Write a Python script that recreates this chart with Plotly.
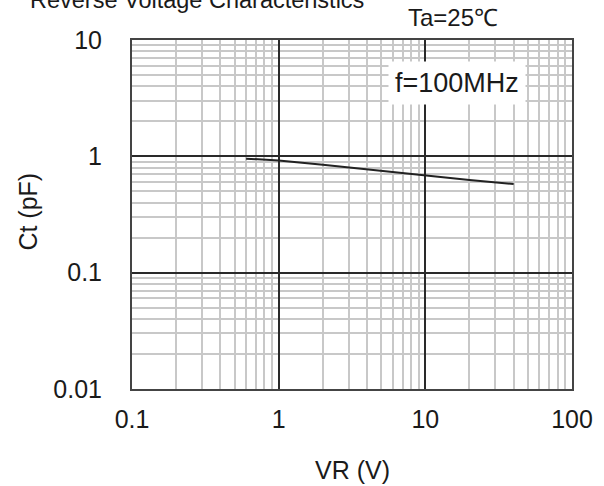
import plotly.graph_objects as go

# Data
vr = [0.6, 1, 2, 5, 10, 20, 40]
ct = [0.955, 0.92, 0.845, 0.748, 0.68, 0.627, 0.577]

x_major = [0.1, 1, 10, 100]
x_labels = ["0.1", "1", "10", "100"]
y_major = [0.01, 0.1, 1, 10]
y_labels = ["0.01", "0.1", "1", "10"]
x_minor = [m * d for d in [0.1, 1, 10] for m in range(2, 10)]
y_minor = [m * d for d in [0.01, 0.1, 1] for m in range(2, 10)]

FONT = "Liberation Sans, Arial, sans-serif"
TXT = "#1a1a1a"

fig = go.Figure()
fig.add_trace(go.Scatter(x=vr, y=ct, mode="lines",
                         line=dict(color="#222222", width=2),
                         hoverinfo="skip", showlegend=False))

axis_common = dict(
    type="log", showline=True, linecolor="#444444", linewidth=2, mirror=True,
    showgrid=True, gridcolor="#2a2a2a", gridwidth=1.5, ticks="",
    zeroline=False, tickfont=dict(family=FONT, size=25, color=TXT),
    minor=dict(showgrid=True, gridcolor="#c8c8c8", gridwidth=1.5, ticks=""),
)

fig.update_xaxes(range=[-1, 2], tickvals=x_major, ticktext=x_labels,
                 ticklabelstandoff=7, **axis_common)
fig.update_xaxes(minor_tickvals=x_minor)
fig.update_yaxes(range=[-2, 1], tickvals=y_major, ticktext=y_labels,
                 ticklabelstandoff=23, **axis_common)
fig.update_yaxes(minor_tickvals=y_minor)

fig.add_annotation(text="Reverse Voltage Characteristics", xref="paper", yref="paper",
                   x=(27 - 131.5) / 440.5, y=1.0, xanchor="left", yanchor="bottom", yshift=25,
                   showarrow=False, font=dict(family=FONT, size=23.5, color=TXT))
fig.add_annotation(text="Ta=25℃", xref="paper", yref="paper",
                   x=(500 - 131.5) / 440.5, y=1.0, xanchor="right", yanchor="middle",
                   yshift=23, showarrow=False, font=dict(family=FONT, size=24, color=TXT))
fig.add_annotation(text="f=100MHz", xref="paper", yref="paper",
                   x=(457 - 131.5) / 440.5, y=1 - (83 - 40) / 349, xanchor="center",
                   yanchor="middle", showarrow=False, bgcolor="white", borderpad=6,
                   font=dict(family=FONT, size=27, color=TXT))
fig.add_annotation(text="Ct (pF)", xref="paper", yref="paper",
                   x=(27 - 131.5) / 440.5, y=1 - (212 - 40) / 349, xanchor="center",
                   yanchor="middle", textangle=-90, showarrow=False,
                   font=dict(family=FONT, size=25, color=TXT))
fig.add_annotation(text="VR (V)", xref="paper", yref="paper",
                   x=0.5, y=-(470 - 389) / 349, xanchor="center", yanchor="middle",
                   showarrow=False, font=dict(family=FONT, size=25, color=TXT))

fig.update_layout(width=604, height=486, paper_bgcolor="white", plot_bgcolor="white",
                  margin=dict(l=131.5, r=32, t=40, b=97), showlegend=False)

fig.write_html("out.html", config={"displayModeBar": False},
               post_script="document.body.style.margin='0px';document.body.style.overflow='hidden';")
